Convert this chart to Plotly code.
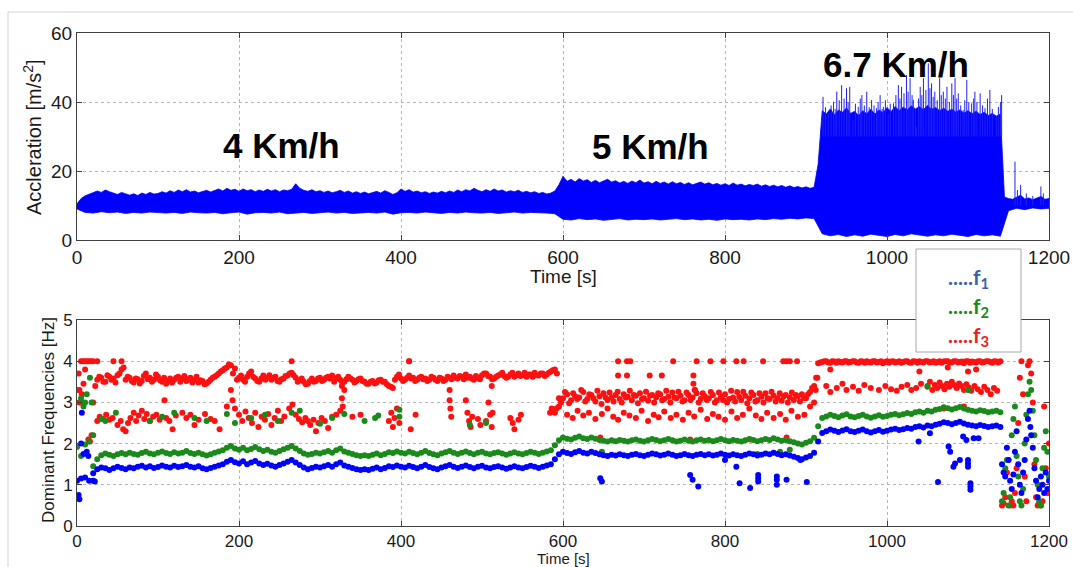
import plotly.graph_objects as go

# ---------------- data ----------------
# Top panel: acceleration signal envelope
acc_upper_t = list(range(0, 1201, 5))
acc_upper = [
    10.5, 12.0, 12.8, 13.2, 13.6, 14.2, 13.8, 14.5, 14.0, 13.6, 13.2, 13.8,
    13.5, 13.0, 13.4, 12.9, 13.6, 13.2, 13.8, 13.3, 13.5, 14.0, 13.6, 14.3,
    13.8, 14.5, 14.0, 14.6, 13.9, 14.2, 13.7, 14.1, 14.4, 13.9, 14.3, 14.8,
    14.2, 15.0, 14.4, 14.7, 14.1, 14.8, 14.3, 14.6, 14.0, 14.5, 14.1, 14.7,
    14.2, 14.6, 14.0, 14.5, 14.3, 14.7, 16.3, 15.0, 14.4, 14.1, 14.6, 14.0,
    14.3, 13.8, 14.2, 13.7, 14.0, 14.4, 13.8, 14.2, 13.6, 14.0, 13.5, 13.9,
    13.4, 13.8, 14.1, 13.6, 14.3, 13.8, 13.2, 13.7, 14.8, 14.1, 14.6, 13.9,
    14.2, 13.7, 14.0, 13.5, 13.9, 13.6, 14.1, 13.7, 14.2, 13.8, 14.5, 14.0,
    14.6, 14.2, 15.0, 14.4, 14.0, 14.6, 14.1, 14.8, 14.2, 14.5, 13.9, 14.3,
    14.0, 14.4, 13.8, 14.1, 13.7, 14.0, 13.5, 13.8, 13.3, 13.6, 14.2, 16.0,
    18.5, 17.0, 17.6, 16.8, 17.8, 17.1, 17.5, 16.7, 17.3, 16.6, 17.2, 17.6,
    16.8, 17.2, 16.5, 17.0, 16.4, 17.1, 16.6, 17.4, 16.5, 16.9, 16.3, 17.0,
    16.4, 16.8, 16.2, 16.9, 16.3, 16.7, 16.1, 16.6, 16.0, 16.5, 16.8, 16.2,
    16.6, 16.0, 16.4, 15.9, 16.3, 15.8, 16.5, 15.9, 16.2, 15.7, 16.1, 15.8,
    16.2, 15.6, 16.0, 15.5, 15.9, 15.4, 15.8, 15.3, 15.7, 15.2, 15.5, 15.1,
    15.4, 15.0, 15.3, 22.0, 37.5, 36.5, 38.0, 36.3, 37.7, 37.0, 38.3, 36.7,
    37.3, 36.1, 37.5, 36.6, 37.9, 36.5, 37.7, 36.9, 38.4, 37.2, 38.7, 37.5,
    38.5, 37.7, 38.9, 38.0, 38.6, 37.8, 39.0, 37.9, 38.4, 37.5, 38.2, 37.3,
    37.9, 37.1, 37.7, 36.8, 37.5, 36.6, 37.3, 36.4, 37.0, 36.1, 36.7, 35.9,
    36.5, 12.5, 12.0, 11.8, 12.4, 13.0, 11.9, 12.2, 11.7, 12.1, 12.6, 11.8,
    12.0,
]
acc_lower_t = list(range(0, 1201, 10))
acc_lower = [
    9.0, 8.0, 7.8, 8.2, 7.9, 8.1, 7.7, 8.0, 7.8, 8.1, 7.9, 7.8,
    8.0, 7.7, 8.1, 7.9, 7.8, 8.0, 7.6, 7.9, 8.1, 7.5, 7.9, 8.0,
    7.8, 8.1, 7.6, 7.9, 8.0, 7.7, 7.9, 8.1, 7.8, 8.0, 7.7, 7.9,
    8.0, 7.8, 8.1, 7.5, 7.9, 8.0, 7.8, 8.1, 7.9, 7.7, 8.0, 7.8,
    8.1, 7.9, 7.8, 8.0, 7.7, 7.9, 8.1, 7.8, 8.0, 7.9, 7.8, 7.6,
    6.0, 5.8, 6.2, 5.9, 6.1, 5.7, 6.0, 6.2, 5.8, 6.0, 5.9, 6.1,
    5.8, 6.0, 6.2, 5.9, 6.1, 5.8, 6.0, 5.7, 6.1, 5.9, 6.0, 5.8,
    6.1, 5.9, 6.2, 6.0, 6.3, 6.1, 6.4, 6.2, 1.8, 1.2, 1.6, 1.0,
    1.5, 1.1, 1.7, 1.3, 1.0, 1.6, 1.2, 1.8, 1.4, 1.1, 1.5, 1.2,
    1.7, 1.3, 1.0, 1.6, 1.2, 1.5, 1.1, 8.5, 9.2, 8.8, 9.3, 9.0,
    9.2,
]
# Spike peaks of the signal (time, peak acceleration)
spike_t = [921, 924, 927.5, 931, 934, 936, 938, 941, 944, 947, 950, 952, 954, 958,
           961, 964.5, 967, 969, 972, 975, 978, 981, 984, 987, 989, 991.5, 994, 995.5,
           998, 1001.5, 1004, 1008, 1011, 1014, 1016, 1018, 1021, 1024, 1026, 1028.5,
           1031, 1032.5, 1035, 1036.5, 1039, 1041, 1043, 1045, 1048, 1051, 1053, 1055,
           1057, 1059, 1062, 1065, 1067, 1069.5, 1072, 1074, 1077, 1080, 1082, 1084,
           1086, 1088, 1091, 1094, 1096, 1098.5, 1101, 1104.5, 1107, 1108.5, 1111, 1115,
           1118, 1121, 1124, 1127, 1130, 1133, 1135, 1137.5, 1140, 1141.5]
spike_v = [41.5, 38.5, 36.7, 39.0, 40.1, 38.0, 43.0, 40.5, 44.9, 41.0, 44.0, 40.0, 44.4, 34.8,
           39.5, 38.6, 41.0, 42.0, 39.0, 43.0, 38.5, 40.6, 39.0, 38.2, 40.0, 42.0, 38.0, 38.6,
           40.5, 36.7, 39.5, 39.6, 42.0, 44.9, 41.0, 44.4, 42.5, 47.8, 43.0, 46.9,
           42.0, 40.6, 38.0, 32.8, 41.0, 44.4, 42.0, 46.9, 43.5, 51.2, 44.0, 45.4,
           41.5, 43.0, 40.5, 46.9, 42.0, 43.0, 41.0, 44.4, 40.0, 45.4, 42.0, 46.9,
           41.0, 42.5, 39.0, 37.7, 40.5, 46.4, 40.0, 39.6, 41.0, 43.0, 40.0, 42.5,
           39.0, 38.2, 41.0, 43.5, 38.0, 30.0, 36.0, 38.6, 40.0, 42.0]
tail_spike_t = [1158, 1161, 1165, 1172, 1180, 1190, 1193]
tail_spike_v = [22.7, 14.5, 16.0, 13.5, 12.8, 15.5, 13.5]

# Bottom panel: dominant frequencies, main tracks every 5 s (0..1140 s)
freq_t = list(range(0, 1141, 5))
f1_main = [
    1.10, 1.15, 1.18, 1.10, 1.28, 1.38, 1.42, 1.40, 1.36, 1.40, 1.44, 1.41,
    1.38, 1.42, 1.40, 1.44, 1.46, 1.42, 1.45, 1.41, 1.43, 1.47, 1.44, 1.42,
    1.46, 1.43, 1.45, 1.48, 1.44, 1.42, 1.45, 1.40, 1.38, 1.41, 1.44, 1.47,
    1.50, 1.56, 1.60, 1.55, 1.52, 1.57, 1.50, 1.54, 1.58, 1.52, 1.48, 1.51,
    1.47, 1.44, 1.48, 1.52, 1.56, 1.60, 1.54, 1.48, 1.42, 1.38, 1.41, 1.44,
    1.42, 1.45, 1.48, 1.44, 1.50, 1.54, 1.47, 1.44, 1.41, 1.38, 1.36, 1.38,
    1.36, 1.39, 1.42, 1.38, 1.41, 1.45, 1.43, 1.47, 1.44, 1.42, 1.46, 1.43,
    1.40, 1.44, 1.48, 1.43, 1.40, 1.38, 1.42, 1.45, 1.48, 1.44, 1.41, 1.44,
    1.47, 1.43, 1.40, 1.44, 1.46, 1.42, 1.40, 1.43, 1.45, 1.42, 1.39, 1.42,
    1.45, 1.42, 1.40, 1.43, 1.46, 1.44, 1.41, 1.44, 1.47, 1.50, 1.62, 1.74,
    1.80, 1.77, 1.75, 1.79, 1.82, 1.78, 1.76, 1.80, 1.77, 1.74, 1.72, 1.70,
    1.73, 1.71, 1.74, 1.72, 1.70, 1.73, 1.75, 1.72, 1.70, 1.73, 1.76, 1.74,
    1.71, 1.73, 1.76, 1.73, 1.70, 1.72, 1.75, 1.72, 1.70, 1.73, 1.75, 1.72,
    1.74, 1.71, 1.73, 1.76, 1.73, 1.71, 1.74, 1.72, 1.70, 1.73, 1.76, 1.74,
    1.71, 1.73, 1.76, 1.74, 1.78, 1.75, 1.72, 1.74, 1.71, 1.68, 1.65, 1.62,
    1.66, 1.70, 1.78, 2.05, 2.26, 2.30, 2.34, 2.31, 2.28, 2.32, 2.35, 2.30,
    2.28, 2.31, 2.34, 2.30, 2.27, 2.30, 2.33, 2.29, 2.31, 2.34, 2.36, 2.33,
    2.35, 2.38, 2.36, 2.40, 2.42, 2.39, 2.44, 2.42, 2.46, 2.48, 2.52, 2.50,
    2.47, 2.50, 2.53, 2.49, 2.46, 2.44, 2.42, 2.45, 2.43, 2.40, 2.42, 2.44,
    2.40,
]
f2_main = [
    1.92, 1.70, 1.98, 2.05, 1.45, 1.62, 1.72, 1.76, 1.73, 1.70, 1.74, 1.77,
    1.74, 1.78, 1.75, 1.73, 1.77, 1.80, 1.76, 1.74, 1.78, 1.81, 1.77, 1.75,
    1.79, 1.76, 1.78, 1.82, 1.77, 1.75, 1.78, 1.74, 1.71, 1.74, 1.78, 1.81,
    1.84, 1.90, 1.94, 1.88, 1.85, 1.90, 1.84, 1.87, 1.92, 1.86, 1.82, 1.85,
    1.80, 1.78, 1.82, 1.86, 1.90, 1.94, 1.88, 1.82, 1.76, 1.73, 1.75, 1.78,
    1.76, 1.79, 1.82, 1.78, 1.84, 1.88, 1.81, 1.78, 1.75, 1.72, 1.70, 1.72,
    1.70, 1.73, 1.76, 1.72, 1.75, 1.79, 1.77, 1.81, 1.78, 1.76, 1.80, 1.77,
    1.74, 1.78, 1.82, 1.77, 1.74, 1.72, 1.76, 1.79, 1.82, 1.78, 1.75, 1.78,
    1.81, 1.77, 1.74, 1.78, 1.80, 1.76, 1.74, 1.77, 1.79, 1.76, 1.73, 1.76,
    1.79, 1.76, 1.74, 1.77, 1.80, 1.78, 1.75, 1.78, 1.81, 1.84, 1.96, 2.08,
    2.15, 2.12, 2.10, 2.14, 2.17, 2.13, 2.11, 2.15, 2.12, 2.09, 2.07, 2.05,
    2.08, 2.06, 2.09, 2.07, 2.05, 2.08, 2.10, 2.07, 2.05, 2.08, 2.11, 2.09,
    2.06, 2.08, 2.11, 2.08, 2.05, 2.07, 2.10, 2.07, 2.05, 2.08, 2.10, 2.07,
    2.09, 2.06, 2.08, 2.11, 2.08, 2.06, 2.09, 2.07, 2.05, 2.08, 2.11, 2.09,
    2.06, 2.08, 2.11, 2.09, 2.13, 2.10, 2.07, 2.09, 2.06, 2.03, 2.00, 1.98,
    2.02, 2.06, 2.14, 2.42, 2.62, 2.66, 2.70, 2.67, 2.64, 2.68, 2.71, 2.66,
    2.64, 2.67, 2.70, 2.66, 2.63, 2.66, 2.69, 2.65, 2.67, 2.70, 2.72, 2.69,
    2.71, 2.74, 2.72, 2.76, 2.78, 2.75, 2.80, 2.78, 2.82, 2.84, 2.88, 2.86,
    2.83, 2.86, 2.89, 2.85, 2.82, 2.80, 2.78, 2.81, 2.79, 2.76, 2.78, 2.80,
    2.76,
]
f3_main = [
    3.30, 4.00, 4.00, 4.00, 4.00, 3.55, 3.60, 3.50, 3.62, 3.58, 3.66, 3.80,
    3.55, 3.60, 3.48, 3.56, 3.52, 3.70, 3.60, 3.55, 3.62, 3.50, 3.45, 3.58,
    3.55, 3.62, 3.58, 3.52, 3.60, 3.55, 3.48, 3.52, 3.46, 3.55, 3.62, 3.70,
    3.78, 3.85, 3.90, 3.82, 3.60, 3.55, 3.62, 3.75, 3.58, 3.50, 3.65, 3.60,
    3.55, 3.62, 3.50, 3.58, 3.65, 3.72, 3.60, 3.54, 3.50, 3.45, 3.58, 3.52,
    3.60, 3.55, 3.62, 3.65, 3.58, 3.55, 3.50, 3.62, 3.55, 3.52, 3.58, 3.50,
    3.45, 3.52, 3.48, 3.55, 3.50, 3.40, 3.35, 3.62, 3.58, 3.55, 3.65, 3.60,
    3.55, 3.62, 3.58, 3.55, 3.60, 3.52, 3.58, 3.55, 3.60, 3.65, 3.58, 3.62,
    3.68, 3.62, 3.55, 3.60, 3.66, 3.70, 3.62, 3.58, 3.65, 3.72, 3.60, 3.68,
    3.62, 3.70, 3.66, 3.62, 3.68, 3.72, 3.65, 3.70, 3.68, 3.75, 3.80, 2.90,
    3.10, 3.20, 3.05, 3.15, 3.12, 3.25, 3.08, 3.18, 3.02, 3.15, 3.22, 3.06,
    3.12, 3.18, 3.08, 3.20, 3.14, 3.05, 3.16, 3.22, 3.10, 3.04, 3.18, 3.12,
    3.20, 3.08, 3.14, 3.24, 3.10, 3.16, 3.05, 3.18, 3.12, 3.22, 3.08, 3.15,
    3.10, 3.18, 3.05, 3.14, 3.20, 3.08, 3.12, 3.25, 3.06, 3.16, 3.10, 3.18,
    3.05, 3.14, 3.22, 3.08, 3.16, 3.10, 3.04, 3.18, 3.12, 3.06, 3.15, 3.20,
    3.10, 3.25, 3.40, 3.95, 3.98, 4.00, 3.96, 3.99, 4.00, 3.97, 4.00, 3.98,
    4.00, 3.96, 3.99, 4.00, 3.97, 4.00, 3.98, 3.95, 4.00, 3.99, 3.97, 4.00,
    3.98, 4.00, 3.96, 3.99, 4.00, 3.97, 4.00, 3.98, 3.96, 4.00, 3.99, 4.00,
    3.97, 4.00, 3.98, 3.95, 4.00, 3.99, 3.97, 4.00, 3.98, 4.00, 3.96, 3.99,
    4.00,
]
# f3 detections between the 5-s samples (2.5, 7.5, ... 1137.5 s)
f3_mid_t = [t + 2.5 for t in range(0, 1140, 5)]
f3_mid = [
    3.00, 4.00, 4.00, 4.00, 3.40, 3.62, 3.50, 3.66, 3.55, 3.48, 3.70, 3.85,
    3.62, 3.52, 3.58, 3.46, 3.64, 3.56, 3.50, 3.68, 3.54, 3.60, 3.52, 3.48,
    3.60, 3.50, 3.64, 3.56, 3.48, 3.62, 3.54, 3.44, 3.50, 3.60, 3.66, 3.75,
    3.82, 3.92, 3.70, 3.55, 3.65, 3.50, 3.70, 3.62, 3.52, 3.58, 3.55, 3.66,
    3.60, 3.52, 3.56, 3.64, 3.70, 3.66, 3.50, 3.58, 3.44, 3.52, 3.50, 3.58,
    3.52, 3.60, 3.58, 3.50, 3.62, 3.48, 3.56, 3.58, 3.48, 3.56, 3.52, 3.45,
    3.50, 3.46, 3.54, 3.50, 3.44, 3.38, 3.55, 3.68, 3.52, 3.60, 3.58, 3.52,
    3.60, 3.56, 3.52, 3.62, 3.55, 3.60, 3.52, 3.62, 3.56, 3.60, 3.64, 3.56,
    3.60, 3.58, 3.64, 3.56, 3.70, 3.64, 3.56, 3.62, 3.68, 3.64, 3.62, 3.72,
    3.66, 3.64, 3.72, 3.68, 3.62, 3.66, 3.70, 3.64, 3.72, 3.78, 3.70, 3.00,
    3.25, 2.98, 3.22, 3.08, 3.30, 3.02, 3.20, 3.10, 3.28, 2.96, 3.12, 3.24,
    3.02, 3.26, 3.00, 3.12, 3.28, 3.18, 2.98, 3.08, 3.26, 3.16, 3.00, 3.22,
    3.05, 3.28, 3.00, 3.12, 3.26, 3.02, 3.24, 3.06, 3.30, 3.00, 3.22, 3.06,
    3.25, 3.00, 3.24, 3.06, 3.00, 3.28, 3.02, 3.14, 3.26, 2.98, 3.24, 3.02,
    3.22, 3.00, 3.10, 3.26, 3.02, 3.22, 3.15, 3.00, 3.24, 3.18, 3.02, 3.10,
    3.20, 3.35, 3.60, 3.97, 4.00, 3.97, 4.00, 3.96, 3.98, 4.00, 3.97, 4.00,
    3.97, 4.00, 3.96, 3.98, 4.00, 3.97, 4.00, 3.98, 3.96, 4.00, 3.98, 3.96,
    4.00, 3.97, 4.00, 3.96, 3.98, 4.00, 3.97, 4.00, 3.98, 3.96, 4.00, 3.97,
    4.00, 3.97, 3.99, 4.00, 3.96, 3.98, 4.00, 3.97, 4.00, 3.98, 4.00, 3.97,
]

# Additional scattered detections (time, frequency)
f1_extra_t = [2, 3, 5, 6, 8, 12, 14, 20, 22,
              646, 648, 757, 760, 767, 800, 814, 818, 831, 841, 841, 841, 864, 864, 864, 876, 893,
              901, 1039, 1053, 1063, 1076, 1078, 1082, 1084, 1090, 1094, 1098, 1100, 1100, 1100,
              1103, 1103, 1103, 1107, 1113,
              1142, 1144, 1146, 1148, 1150, 1152, 1154, 1156, 1158, 1160, 1162, 1164, 1166, 1168,
              1170, 1172, 1174, 1176, 1177, 1178, 1180, 1182, 1184, 1186, 1188, 1190, 1192, 1194,
              1196, 1198, 1200]
f1_extra_v = [0.75, 0.65, 2.0, 2.75, 1.75, 1.8, 1.7, 1.1, 1.08,
              1.16, 1.08, 1.24, 1.12, 0.96, 1.6, 1.44, 1.04, 0.92, 1.24, 1.16, 1.08, 1.2, 1.12, 1.0, 1.12, 1.6,
              1.07, 2.05, 2.25, 1.07, 1.93, 1.8, 1.44, 1.52, 1.6, 2.17, 2.09, 1.6, 1.52, 1.44,
              1.04, 0.96, 0.88, 2.13, 2.13,
              1.5, 1.3, 1.2, 1.9, 1.6, 1.1, 0.9, 1.25, 1.8, 2.3, 1.5, 1.0, 0.8, 1.3,
              1.6, 2.1, 2.6, 2.8, 2.4, 2.2, 1.9, 1.4, 1.1, 0.7, 0.9, 1.2, 1.0, 0.8,
              1.3, 0.9, 1.1]
f2_extra_t = [5, 8, 10, 12, 16, 18, 20, 30, 35, 48, 90, 105, 120, 145, 160, 185, 195, 215, 232,
              248, 265, 275, 300, 315, 330, 355, 368, 372, 398, 398, 485, 505,
              648, 840, 868, 880, 1050, 1100,
              1142, 1144, 1146, 1148, 1150, 1152, 1154, 1156, 1158, 1160, 1162, 1164, 1166, 1168,
              1170, 1172, 1174, 1176, 1178, 1180, 1182, 1184, 1186, 1188, 1190, 1192, 1194, 1196,
              1198, 1200]
f2_extra_v = [3.1, 2.9, 3.0, 3.2, 3.6, 3.0, 2.2, 2.6, 2.55, 2.75, 2.55, 2.65, 2.75, 2.62, 2.55, 2.72,
              2.5, 2.62, 2.7, 2.55, 2.75, 2.8, 2.48, 2.62, 2.72, 2.55, 2.62, 2.68, 2.82, 2.65, 2.45, 2.5,
              1.8, 1.75, 1.8, 1.85, 3.4, 3.3,
              0.6, 0.8, 1.4, 1.6, 0.5, 0.7, 2.2, 2.6, 2.9, 1.7, 1.2, 0.6, 0.5, 0.9,
              2.0, 2.7, 3.2, 3.5, 3.3, 2.8, 2.2, 1.6, 1.0, 0.6, 0.5, 1.4, 1.9, 2.3,
              1.8, 1.2]
f3_extra_t = [2, 3, 5, 6, 8, 10, 14, 16, 18, 20, 25, 45, 55,
              25, 28, 32, 36, 40, 44, 50, 54, 57, 60, 63, 66, 70, 73, 76, 80, 83, 86, 90, 94, 98,
              102, 108, 110, 114, 118, 122, 130, 135, 140, 145, 150, 158, 165, 170, 176, 185, 190,
              192, 195, 200, 204, 208, 212, 216, 220, 224, 228, 232, 236, 240, 244, 248, 252, 256,
              262, 266, 270, 274, 278, 282, 285, 288, 292, 295, 298, 302, 306, 310, 315, 320, 325,
              327, 327, 328, 330, 340, 350, 385, 388, 390, 392, 395, 398, 410, 412, 418,
              460, 460, 461, 462, 480, 482, 484, 486, 488, 495, 498, 505, 508, 510, 512, 512, 513,
              535, 538, 540, 545, 548, 584, 586, 590, 592, 595, 265, 410,
              605, 612, 618, 625, 632, 640, 648, 655, 662, 668, 675, 682, 690, 697, 705, 712, 718,
              725, 733, 740, 748, 755, 762, 770, 778, 785, 792, 800, 808, 815, 822, 830, 838, 845,
              852, 860, 868, 875, 882, 890, 898, 905,
              668, 679, 683, 736, 765, 782, 798, 814, 823, 847, 872, 876, 880, 889,
              668, 679, 707, 722, 761, 761, 763, 646, 757, 831, 876,
              925, 930, 938, 945, 950, 958, 965, 972, 980, 990, 998, 1005, 1012, 1018, 1025, 1030,
              1036, 1042, 1050, 1053, 1056, 1059, 1062, 1065, 1068, 1071, 1074, 1077, 1080, 1083,
              1086, 1089, 1092, 1095, 1098, 1101, 1104, 1108, 1112, 1116, 1120, 1124, 1128, 1132,
              1136, 930, 1040, 1075, 1100, 1110, 1070, 1095, 910, 912, 914,
              1142, 1144, 1146, 1148, 1150, 1152, 1154, 1156, 1158, 1160, 1162, 1164, 1166, 1168,
              1170, 1172, 1174, 1176, 1178, 1180, 1182, 1184, 1186, 1188, 1190, 1192, 1194, 1196,
              1198, 1200]
f3_extra_v = [3.7, 3.3, 3.0, 3.2, 3.45, 3.8, 2.1, 2.05, 2.2, 3.0, 4.0, 4.0, 4.0,
              2.55, 2.65, 2.60, 2.70, 2.58, 2.62, 2.45, 2.55, 2.35, 2.30, 2.50, 2.62, 2.75, 2.55,
              2.68, 2.80, 2.60, 2.72, 2.55, 2.65, 2.70,
              2.58, 3.05, 2.62, 2.55, 2.35, 2.68, 2.75, 2.62, 2.70, 2.45, 2.58, 2.72, 2.60, 2.55,
              2.35, 2.90, 3.30,
              3.05, 2.85, 2.70, 2.55, 2.78, 2.62, 2.50, 2.75, 2.40, 2.65, 2.58, 2.72, 2.45, 2.62,
              2.80, 2.55, 2.66,
              2.85, 2.95, 2.70, 2.60, 2.52, 2.62, 2.55, 2.45, 2.58, 2.30, 2.50, 2.62, 2.55, 2.38,
              2.65, 2.70, 2.80,
              3.40, 3.10, 2.90, 3.30, 2.65, 2.70, 2.55, 2.75, 2.40, 2.62, 2.85, 2.50, 4.0, 2.35, 2.70,
              3.30, 3.05, 2.85, 2.65, 3.05, 2.75, 2.55, 2.40, 2.65, 2.60, 2.45, 2.55, 3.00, 2.70,
              3.40, 2.40, 2.75,
              2.62, 2.50, 2.35, 2.58, 2.70, 2.75, 2.85, 2.75, 2.85, 3.10, 4.0, 4.0,
              2.70, 2.62, 2.80, 2.68, 2.75, 2.60, 2.72, 2.85, 2.65, 2.58, 2.75, 2.68, 2.62, 2.80,
              2.55, 2.70, 2.64, 2.78, 2.62, 2.70, 2.58, 2.75, 2.66, 2.82, 2.60, 2.72, 2.65, 2.58,
              2.78, 2.62, 2.70, 2.85, 2.68, 2.60, 2.75, 2.62, 2.72, 2.58, 2.80, 2.65, 2.70, 2.90,
              4.0, 4.0, 4.0, 4.0, 4.0, 4.0, 4.0, 4.0, 4.0, 4.0, 4.0, 4.0, 4.0, 4.0,
              3.65, 3.65, 3.65, 3.65, 3.65, 3.45, 3.30, 2.15, 2.10, 2.10, 2.15,
              3.40, 3.25, 3.35, 3.45, 3.30, 3.38, 3.28, 3.42, 3.35, 3.30, 3.40, 3.32, 3.28, 3.38,
              3.42, 3.30, 3.35, 3.45, 3.38, 3.50, 3.30, 3.42, 3.35, 3.48, 3.40, 3.32, 3.45, 3.38,
              3.50, 3.42, 3.35, 3.46, 3.40, 3.30, 3.44, 3.36, 3.28, 3.40, 3.32, 3.25, 3.38, 3.30,
              3.20, 3.35, 3.28, 3.80, 3.75, 3.85, 3.75, 3.80, 2.85, 2.90, 3.0, 3.3, 3.6,
              0.50, 0.55, 0.70, 1.30, 1.60, 0.50, 0.60, 0.50, 0.80, 1.40, 2.50, 3.60, 4.00, 3.20,
              1.20, 0.60, 3.90, 4.00, 3.70, 3.00, 1.50, 0.70, 0.50, 0.55, 0.50, 0.60, 2.90, 1.40,
              0.80, 2.00]

speed_labels = ["4 Km/h", "5 Km/h", "6.7 Km/h"]
speed_label_t = [253, 708, 1011]
speed_label_y = [27.5, 27.0, 51.0]

x_ticks = [0, 200, 400, 600, 800, 1000, 1200]

# ---------------- figure ----------------
W, H = 1073, 567
ML, MR, MT, MB = 77, 24, 33, 41
PW, PH = W - ML - MR, H - MT - MB


def px_x(px):
    return (px - ML) / PW


def px_y(py):
    return (H - MB - py) / PH


BLUE = "#0000ff"
GREEN = "#1a8a1a"
RED = "#ff1010"
FONT = "Liberation Sans, Arial, sans-serif"

fig = go.Figure()

# top: signal body as filled envelope
poly_x = acc_upper_t + acc_lower_t[::-1]
poly_y = acc_upper + acc_lower[::-1]
fig.add_trace(go.Scatter(x=poly_x, y=poly_y, mode="lines", fill="toself",
                         fillcolor=BLUE, line=dict(color=BLUE, width=0.8),
                         xaxis="x", yaxis="y", hoverinfo="skip", showlegend=False))

sx, sy = [], []
for t, v in zip(spike_t, spike_v):
    sx += [t, t, None]
    sy += [30, v, None]
for t, v in zip(tail_spike_t, tail_spike_v):
    sx += [t, t, None]
    sy += [10, v, None]
fig.add_trace(go.Scatter(x=sx, y=sy, mode="lines", line=dict(color="#2020ff", width=1),
                         xaxis="x", yaxis="y", hoverinfo="skip", showlegend=False))

# bottom: dominant frequencies
MS = 6
for xs, ys, col in [
    (freq_t, f3_main, RED), (f3_mid_t, f3_mid, RED), (f3_extra_t, f3_extra_v, RED),
    (freq_t, f2_main, GREEN), (f2_extra_t, f2_extra_v, GREEN),
    (freq_t, f1_main, BLUE), (f1_extra_t, f1_extra_v, BLUE),
]:
    fig.add_trace(go.Scatter(x=xs, y=ys, mode="markers",
                             marker=dict(color=col, size=MS, line=dict(width=0)),
                             xaxis="x2", yaxis="y2", showlegend=False))

axis_common = dict(
    range=[0, 1200], tickvals=x_ticks, showgrid=True, gridcolor="#b5b5b5",
    griddash="dot", gridwidth=1, showline=True, linecolor="#404040", linewidth=1,
    mirror="ticks", ticks="inside", ticklen=5, tickcolor="#404040", zeroline=False,
    automargin=False,
)
yaxis_common = dict(
    showgrid=True, gridcolor="#b5b5b5", griddash="dot", gridwidth=1,
    showline=True, linecolor="#404040", linewidth=1, mirror="ticks",
    ticks="inside", ticklen=5, tickcolor="#404040", zeroline=False,
    automargin=False,
)

top_bottom = px_y(240)
bot_top = px_y(320)

fig.update_layout(
    width=W, height=H, margin=dict(l=ML, r=MR, t=MT, b=MB, autoexpand=False),
    paper_bgcolor="white", plot_bgcolor="white",
    font=dict(family=FONT, color="#1a1a1a"),
    xaxis=dict(axis_common, anchor="y", domain=[0, 1], tickfont=dict(size=19)),
    yaxis=dict(yaxis_common, anchor="x", domain=[top_bottom, 1], range=[0, 60],
               tickvals=[0, 20, 40, 60], tickfont=dict(size=19)),
    xaxis2=dict(axis_common, anchor="y2", domain=[0, 1], tickfont=dict(size=17)),
    yaxis2=dict(yaxis_common, anchor="x2", domain=[0, bot_top], range=[0, 5],
                tickvals=[0, 1, 2, 3, 4, 5], tickfont=dict(size=17)),
    showlegend=False,
)

annotations = []
for txt, t, y in zip(speed_labels, speed_label_t, speed_label_y):
    annotations.append(dict(x=t, y=y, xref="x", yref="y", text="<b>" + txt + "</b>",
                            xanchor="center", yanchor="middle",
                            showarrow=False, font=dict(size=35, color="black", family=FONT)))

# axis titles
annotations += [
    dict(x=px_x(32), y=px_y(137), xref="paper", yref="paper", textangle=-90,
         xanchor="center", yanchor="middle",
         text="Accleration [m/s<sup>2</sup>]", showarrow=False, font=dict(size=20)),
    dict(x=px_x(563), y=px_y(276), xref="paper", yref="paper",
         xanchor="center", yanchor="middle",
         text="Time [s]", showarrow=False, font=dict(size=19)),
    dict(x=px_x(48), y=px_y(420), xref="paper", yref="paper", textangle=-90,
         xanchor="center", yanchor="middle",
         text="Dominant Frequencies [Hz]", showarrow=False, font=dict(size=17)),
    dict(x=px_x(563), y=px_y(558.5), xref="paper", yref="paper",
         xanchor="center", yanchor="middle",
         text="Time [s]", showarrow=False, font=dict(size=15)),
]

# legend box text
LEG_FONT = "Lato, Open Sans, sans-serif"
for i, (lbl, col) in enumerate([("1", "#3a62b0"), ("2", "#1a8a1a"), ("3", "#ee1c24")]):
    annotations.append(dict(
        x=px_x(968), y=px_y(278 + 29 * i), xref="paper", yref="paper",
        xanchor="center", yanchor="middle",
        text="<b>.....f<sub>" + lbl + "</sub></b>", showarrow=False,
        font=dict(size=21, color=col, family=LEG_FONT)))

fig.update_layout(annotations=annotations)

shapes = [
    dict(type="rect", xref="paper", yref="paper", x0=px_x(916), x1=px_x(1021),
         y0=px_y(352), y1=px_y(249), fillcolor="white",
         line=dict(color="#a8a8a8", width=1), layer="above"),
    dict(type="line", xref="paper", yref="paper", x0=px_x(8), x1=px_x(1073),
         y0=px_y(12), y1=px_y(12), line=dict(color="#d4d4d4", width=1)),
    dict(type="line", xref="paper", yref="paper", x0=px_x(8), x1=px_x(8),
         y0=px_y(12), y1=px_y(567), line=dict(color="#d4d4d4", width=1)),
]
fig.update_layout(shapes=shapes)

fig.write_html("out.html")
